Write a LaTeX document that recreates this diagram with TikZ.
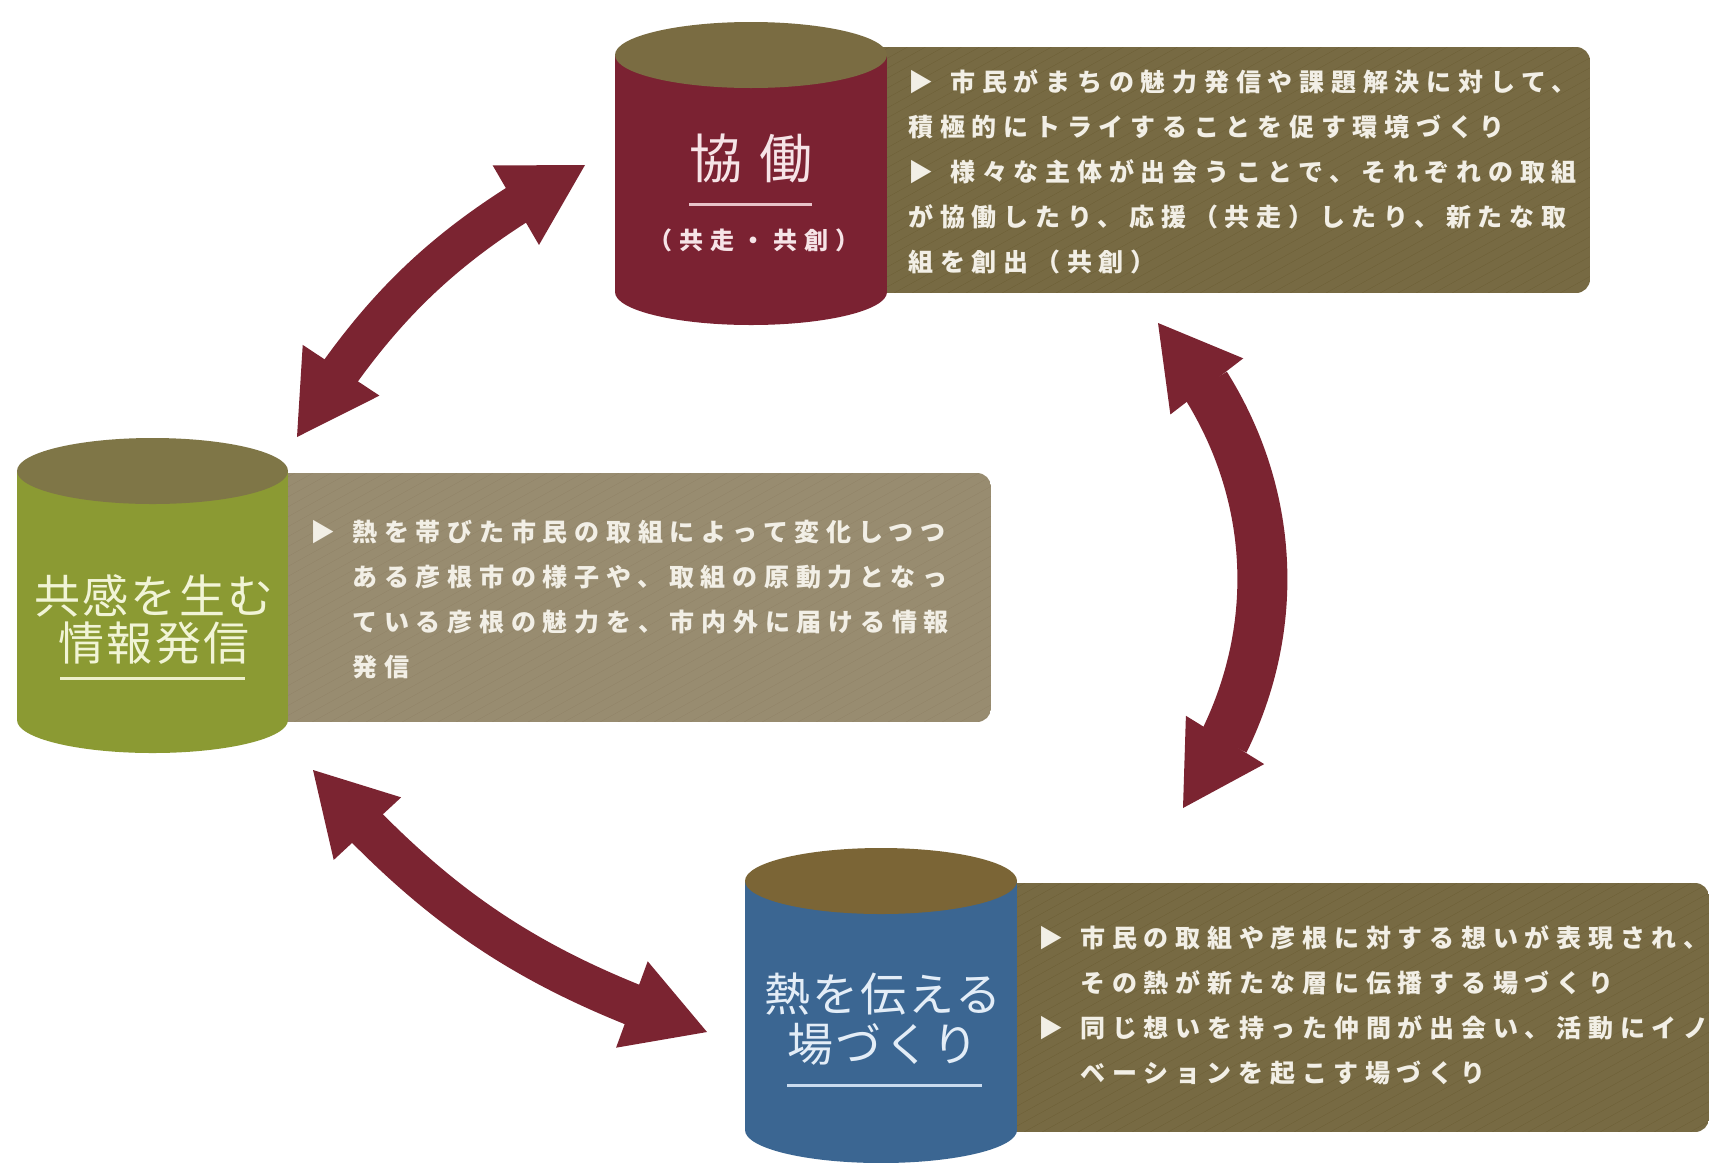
\documentclass[tikz,border=0pt]{standalone}
\usepackage{fontspec}
\setmainfont{Noto Sans CJK JP}
\newfontfamily\bodyfont[LetterSpace=27]{Noto Sans CJK JP}
\newfontfamily\titlefont[LetterSpace=5]{Noto Sans CJK JP}
\usetikzlibrary{arrows.meta,bending}
\definecolor{kyored}{HTML}{7B2232}
\definecolor{kyogreen}{HTML}{8B9A33}
\definecolor{kyoblue}{HTML}{3B6692}
\definecolor{lidolive}{HTML}{7A6C42}
\definecolor{lidgreen}{HTML}{7F7647}
\definecolor{lidbrown}{HTML}{7B6536}
\definecolor{boxdark}{HTML}{6F6138}
\definecolor{boxlight}{HTML}{928568}
\definecolor{arrowred}{HTML}{7B2431}
\definecolor{textcream}{HTML}{F2EFE6}
\definecolor{redtitle}{HTML}{F6E4E7}
\definecolor{redline}{HTML}{E8C3C9}
\definecolor{greentitle}{HTML}{F1F4D6}
\definecolor{greenline}{HTML}{EDF0CB}
\definecolor{bluetitle}{HTML}{E3EDF7}
\definecolor{blueline}{HTML}{CADCEF}
\newcommand{\drawcyl}[6]{%
  \fill[#5] (#1-#2,#3) rectangle (#1+#2,#4);
  \fill[#5] (#1,#4) ellipse[x radius=#2,y radius=33];
  \fill[#6] (#1,#3) ellipse[x radius=#2,y radius=33];}
\newcommand{\stripebox}[5]{%
  \begin{scope}
    \clip[rounded corners=7pt] (#1,#2) rectangle (#3,#4);
    \fill[#5] (#1,#2) rectangle (#3,#4);
    \foreach \s in {-480,-462,...,740} \draw[stripe] (#1+\s,#4+5) -- ++(480,-265);
  \end{scope}}
\newcommand{\tribullet}{▶\hspace{8.5pt}}
\newcommand{\trihang}{\hphantom{▶}\hspace{8.5pt}}
\begin{document}
\begin{tikzpicture}[x=0.5pt,y=-0.5pt,>={Triangle[width=46pt,length=40pt,line width=0pt]},
  stripe/.style={white,opacity=0.06,line width=4pt},
  bodytext/.style={text=textcream,font=\bodyfont\bfseries\fontsize{12.5}{22.5}\selectfont,align=left,inner sep=0pt,anchor=north west},
  bigarrow/.style={draw=arrowred,line width=20pt,<->}]
  \useasboundingbox (0,0) rectangle (1711,1162);
  \fill[white] (0,0) rectangle (1711,1162);
  \stripebox{870}{47}{1590}{293}{boxdark}
  \stripebox{270}{473}{991}{722}{boxlight}
  \stripebox{1000}{883}{1709}{1132}{boxdark}
  \drawcyl{751}{136}{55}{292}{kyored}{lidolive}
  \drawcyl{152.5}{135.5}{471}{720}{kyogreen}{lidgreen}
  \drawcyl{881}{136}{881}{1130}{kyoblue}{lidbrown}
  \node[text=redtitle,font=\fontsize{26.5}{28}\selectfont] (kyodo) at (751,158) {協\hspace{8.5pt}働};
  \draw[redline,line width=1.5pt] (689,204) -- (812,204);
  \node[text=redtitle,font=\bodyfont\bfseries\addfontfeature{LetterSpace=30}\fontsize{12}{13}\selectfont] (kyodosub) at (754,240) {（共走・共創）};
  \node[text=greentitle,font=\titlefont\fontsize{23}{23.5}\selectfont,align=center] (kyokan) at (154,619) {共感を生む\\情報発信};
  \draw[greenline,line width=1.5pt] (60,678) -- (245,678);
  \node[text=bluetitle,font=\titlefont\fontsize{23}{25}\selectfont,align=center] (netsu) at (883,1019) {熱を伝える\\場づくり};
  \draw[blueline,line width=1.5pt] (787,1085) -- (982,1085);
  \node[bodytext] (kyodotext) at (908,69) {\tribullet 市民がまちの魅力発信や課題解決に対して、\\積極的にトライすることを促す環境づくり\\\tribullet 様々な主体が出会うことで、それぞれの取組\\が協働したり、応援（共走）したり、新たな取\\組を創出（共創）};
  \node[bodytext] (kyokantext) at (310,520) {\tribullet 熱を帯びた市民の取組によって変化しつつ\\\trihang ある彦根市の様子や、取組の原動力となっ\\\trihang ている彦根の魅力を、市内外に届ける情報\\\trihang 発信};
  \node[bodytext] (netsutext) at (1038,925) {\tribullet 市民の取組や彦根に対する想いが表現され、\\\trihang その熱が新たな層に伝播する場づくり\\\tribullet 同じ想いを持った仲間が出会い、活動にイノ\\\trihang ベーションを起こす場づくり};
  \coordinate (kyodoA) at (585,165);
  \coordinate (kyodoB) at (1158,323);
  \coordinate (kyokanA) at (297,437);
  \coordinate (kyokanB) at (313,770);
  \coordinate (netsuA) at (707,1032);
  \coordinate (netsuB) at (1183,808);
  \draw[bigarrow] (kyokanA) to[bend left=15] (kyodoA);
  \draw[bigarrow,line width=25pt] (kyodoB) to[bend left=40] (netsuB);
  \draw[bigarrow,line width=21pt] (kyokanB) to[bend right=15] (netsuA);
\end{tikzpicture}
\end{document}
